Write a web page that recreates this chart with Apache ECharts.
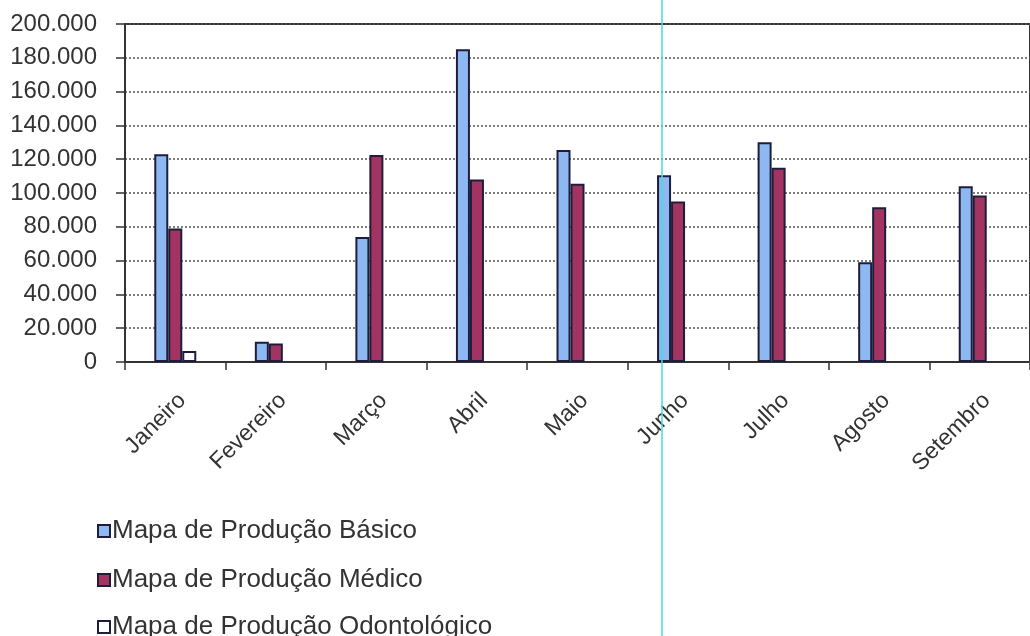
<!DOCTYPE html>
<html>
<head>
<meta charset="utf-8">
<script src="https://cdn.jsdelivr.net/npm/echarts@6/dist/echarts.min.js"></script>
<style>
html,body{margin:0;padding:0;background:#fff;}
#chart{width:1030px;height:636px;}
</style>
</head>
<body>
<div id="chart"></div>
<script>
const categories = ['Janeiro','Fevereiro','Março','Abril','Maio','Junho','Julho','Agosto','Setembro'];
const basico = [123000, 12000, 74000, 185000, 125500, 110500, 130000, 59000, 104000];
const medico = [79000, 11000, 122500, 108000, 105500, 95000, 115000, 91500, 98500];
const odonto = [6500, null, null, null, null, null, null, null, null];
const seriesNames = ['Mapa de Produção Básico','Mapa de Produção Médico','Mapa de Produção Odontológico'];
const yTicks = {min: 0, max: 200000, interval: 20000};

function fmt(v){
  return String(v).replace(/\B(?=(\d{3})+(?!\d))/g, '.');
}

const chart = echarts.init(document.getElementById('chart'), null, {renderer:'canvas'});
const border = '#1e1e3c';
const font = '"Liberation Sans", Arial, sans-serif';
const mk = (name, data, color) => ({
  name, type:'bar', data, barWidth: 14, barGap: '0%',
  itemStyle:{color, borderColor:border, borderWidth:2},
  emphasis:{disabled:true}
});
const legendRow = (name, top) => ({
  data:[name], orient:'vertical', left:92, top, itemWidth:12, itemHeight:12,
  icon:'rect', selectedMode:false,
  textStyle:{fontSize:26, color:'#333', fontFamily:font, padding:[0,0,0,-3]}
});
chart.setOption({
  animation:false,
  backgroundColor:'#fff',
  textStyle:{fontFamily:font},
  grid:{left:125, right:-13, top:24, bottom:274, show:true, borderColor:'#333', borderWidth:2, containLabel:false},
  legend:[
    legendRow(seriesNames[0], 513),
    legendRow(seriesNames[1], 562),
    legendRow(seriesNames[2], 609)
  ],
  xAxis:{
    type:'category', data:categories,
    axisLine:{lineStyle:{color:'#333', width:2}},
    axisTick:{show:true, length:8, lineStyle:{color:'#333', width:1.5}},
    axisLabel:{rotate:45, fontSize:23, color:'#333', margin:42, interval:0, padding:[0,-10,0,0]}
  },
  yAxis:{
    type:'value', min:yTicks.min, max:yTicks.max, interval:yTicks.interval,
    axisLine:{show:true, lineStyle:{color:'#333', width:2}},
    axisTick:{show:true, length:9, lineStyle:{color:'#333', width:1.5}},
    axisLabel:{fontSize:24, color:'#333', margin:28, formatter:fmt},
    splitLine:{show:true, lineStyle:{color:'#555', type:[2,2], width:1.5}}
  },
  series:[
    mk(seriesNames[0], basico, '#8db8f2'),
    mk(seriesNames[1], medico, '#a33462'),
    mk(seriesNames[2], odonto, '#ffffff')
  ],
  graphic:[{
    type:'line', shape:{x1:662, y1:0, x2:662, y2:636},
    style:{stroke:'#48dcdc', lineWidth:1.5}, z:100
  }]
});
</script>
</body>
</html>
